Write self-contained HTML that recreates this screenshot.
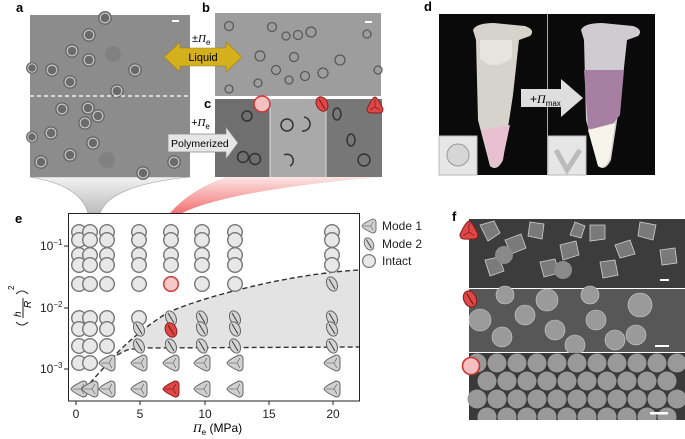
<!DOCTYPE html>
<html><head><meta charset="utf-8"><style>
html,body{margin:0;padding:0;background:#fff;width:685px;height:439px;overflow:hidden}
svg{display:block;font-family:"Liberation Sans",Arial,sans-serif}
</style></head><body>
<svg width="685" height="439" viewBox="0 0 685 439" xmlns="http://www.w3.org/2000/svg">
<defs>
<linearGradient id="gf" x1="0" y1="0" x2="0" y2="1"><stop offset="0" stop-color="#f2f2f2"/><stop offset="1" stop-color="#bdbdbd"/></linearGradient>
<linearGradient id="rf" x1="0" y1="0" x2="0" y2="1"><stop offset="0" stop-color="#fbe0e0"/><stop offset="1" stop-color="#f05a5a"/></linearGradient>
<radialGradient id="cell"><stop offset="0.55" stop-color="#6a6a6a"/><stop offset="0.7" stop-color="#e0e0e0"/><stop offset="0.85" stop-color="#555"/><stop offset="1" stop-color="#808080"/></radialGradient>
<symbol id="I" viewBox="-8 -8 16 16" overflow="visible"><circle r="7.3" fill="#e8e8e8" stroke="#777" stroke-width="1.4"/></symbol>
<symbol id="RI" viewBox="-8 -8 16 16" overflow="visible"><circle r="7.3" fill="#f6c8c8" stroke="#c44" stroke-width="1.6"/></symbol>
<symbol id="M2" viewBox="-8 -8 16 16" overflow="visible"><ellipse rx="5" ry="7.5" transform="rotate(-25)" fill="#d4d4d4" stroke="#666" stroke-width="1"/><path d="M-3,-5 L3,5" stroke="#333" stroke-width="0.9"/></symbol>
<symbol id="R2" viewBox="-8 -8 16 16" overflow="visible"><ellipse rx="5.5" ry="7.5" transform="rotate(-25)" fill="#e04848" stroke="#8a1e1e" stroke-width="1"/><path d="M-3,-5 L3,5" stroke="#701010" stroke-width="0.9"/></symbol>
<symbol id="M1" viewBox="-8 -8 16 16" overflow="visible"><path d="M-8,0 Q-7,-3 4,-8 Q8,-8 8,-4 L8,4 Q8,8 4,8 Q-7,3 -8,0Z" fill="#d0d0d0" stroke="#666" stroke-width="1"/><path d="M-6,0 L2,0 M2,0 L5,-5 M2,0 L5,5" stroke="#777" stroke-width="0.8" fill="none"/></symbol>
<symbol id="R1" viewBox="-8 -8 16 16" overflow="visible"><path d="M-8,0 Q-7,-3 4,-8 Q8,-8 8,-4 L8,4 Q8,8 4,8 Q-7,3 -8,0Z" fill="#e04848" stroke="#8a1e1e" stroke-width="1"/><path d="M-6,0 L2,0 M2,0 L5,-5 M2,0 L5,5" stroke="#8a1e1e" stroke-width="0.8" fill="none"/></symbol>
</defs>

<!-- funnels -->
<path d="M30,177 Q80,185 88,213 L100,213 Q110,185 190,177Z" fill="url(#gf)" stroke="#999" stroke-width="0.6"/>
<path d="M226,177 Q190,190 170,213 L182,213 Q230,190 381,177Z" fill="url(#rf)" opacity="0.85"/>

<!-- panel a -->
<rect x="30" y="15" width="160" height="162" fill="#8c8c8c"/>
<g fill="url(#cell)">
<circle cx="89" cy="35" r="7"/><circle cx="72" cy="51" r="7"/><circle cx="89" cy="60" r="7"/><circle cx="52" cy="70" r="7"/><circle cx="70" cy="82" r="7"/><circle cx="135" cy="70" r="7"/><circle cx="117" cy="91" r="7"/><circle cx="62" cy="109" r="7"/><circle cx="88" cy="108" r="7"/><circle cx="98" cy="116" r="7"/><circle cx="85" cy="123" r="7"/><circle cx="51" cy="133" r="7"/><circle cx="93" cy="143" r="7"/><circle cx="70" cy="155" r="7"/><circle cx="41" cy="162" r="7"/><circle cx="174" cy="162" r="7"/><circle cx="143" cy="173" r="7"/><circle cx="105" cy="18" r="7"/><circle cx="32" cy="68" r="6"/><circle cx="32" cy="137" r="6"/>
</g>
<circle cx="113" cy="54" r="8" fill="#7a7a7a" opacity="0.6"/><circle cx="107" cy="160" r="8" fill="#7a7a7a" opacity="0.6"/>
<line x1="30" y1="96" x2="190" y2="96" stroke="#eee" stroke-width="1.5" stroke-dasharray="4,3"/>
<rect x="172" y="20" width="7" height="2" fill="#fff"/>
<text x="16" y="12" font-size="13" font-weight="bold">a</text>

<!-- panel b -->
<rect x="215" y="13" width="166" height="83" fill="#9d9d9d"/>
<g fill="none" stroke="#5a5a5a" stroke-width="1.3">
<circle cx="229" cy="26" r="4.5"/><circle cx="272" cy="27" r="4.5"/><circle cx="286" cy="36" r="4"/><circle cx="298" cy="35" r="4.5"/><circle cx="311" cy="32" r="5"/><circle cx="367" cy="34" r="4"/><circle cx="260" cy="56" r="5"/><circle cx="294" cy="57" r="4.5"/><circle cx="340" cy="60" r="5"/><circle cx="276" cy="70" r="4.5"/><circle cx="289" cy="80" r="4"/><circle cx="305" cy="76" r="4.5"/><circle cx="323" cy="73" r="5"/><circle cx="258" cy="83" r="4"/><circle cx="229" cy="89" r="4"/><circle cx="378" cy="70" r="4"/>
</g>
<rect x="365" y="21" width="7" height="2" fill="#fff"/>
<text x="202" y="12" font-size="13" font-weight="bold">b</text>

<!-- panel c -->
<rect x="215" y="99" width="55" height="78" fill="#6f6f6f"/>
<rect x="270" y="99" width="56" height="78" fill="#a9a9a9"/>
<rect x="326" y="99" width="56" height="78" fill="#777"/>
<line x1="270" y1="99" x2="270" y2="177" stroke="#ddd"/><line x1="326" y1="99" x2="326" y2="177" stroke="#ddd"/>
<g fill="none" stroke="#333" stroke-width="1.5">
<circle cx="247" cy="116" r="5"/><circle cx="243" cy="157" r="5.5"/><circle cx="255" cy="159" r="5.5"/><circle cx="287" cy="125" r="6"/>
<path d="M304,117 A6,6 0 0 1 302,131"/><path d="M284,155 A6,6 0 0 1 290,166"/>
<ellipse cx="337" cy="114" rx="4" ry="6"/><ellipse cx="351" cy="140" rx="4" ry="6"/><circle cx="364" cy="160" r="6"/>
</g>
<circle cx="262" cy="104" r="8" fill="#f6c0c0" stroke="#c33" stroke-width="1.5"/>
<use href="#R2" x="314" y="96" width="16" height="16"/>
<use href="#R1" x="367" y="97" width="16" height="16" transform="rotate(90 375 105)"/>

<!-- arrows -->
<text x="192" y="42" font-size="11" font-style="italic">±<tspan font-family="Liberation Serif">Π</tspan><tspan font-size="8" dy="3" font-style="normal">e</tspan></text>
<path d="M164,57 L180,42 L180,48 L226,48 L226,42 L242,57 L226,72 L226,66 L180,66 L180,72Z" fill="#d4b01c" stroke="#9c8012" stroke-width="0.6"/>
<text x="203" y="61" font-size="11" text-anchor="middle">Liquid</text>
<rect x="196" y="98" width="18" height="14" fill="#fff"/>
<text x="204" y="108" font-size="13" font-weight="bold">c</text>
<text x="191" y="126" font-size="11" font-style="italic">+<tspan font-family="Liberation Serif">Π</tspan><tspan font-size="8" dy="3" font-style="normal">e</tspan></text>
<path d="M168,134 L226,134 L226,127 L238,143 L226,159 L226,152 L168,152Z" fill="#e6e6e6" stroke="#888" stroke-width="0.7"/>
<text x="171" y="147" font-size="10.5">Polymerized</text>

<!-- panel d -->
<text x="424" y="11" font-size="13" font-weight="bold">d</text>
<rect x="439" y="14" width="108" height="161" fill="#0a0a0a"/>
<rect x="548" y="14" width="107" height="161" fill="#0a0a0a"/>
<line x1="547.5" y1="14" x2="547.5" y2="175" stroke="#aaa"/>
<path d="M473,30 Q476,23 494,23 L525,26 Q536,30 530,36 L519,40 L513,95 L503,160 Q497,172 490,166 L478,120 L476,40Z" fill="#d6d3cc"/>
<path d="M480,58 Q492,72 512,58 L512,40 L480,40Z" fill="#e6e4de"/>
<path d="M481,130 L510,125 L503,158 Q497,170 491,165Z" fill="#e9c0cf"/>
<path d="M581,30 Q584,23 602,23 L633,26 Q644,30 638,36 L627,40 L621,95 L611,160 Q605,172 598,166 L586,120 L584,40Z" fill="#cfcbd0"/>
<path d="M584,70 L624,70 L620,115 L612,125 Q598,133 588,128Z" fill="#a67fa3"/>
<path d="M588,130 L615,123 L610,158 Q605,170 598,166Z" fill="#f6f4ea"/>
<rect x="439" y="136" width="38" height="39" fill="#e6e6e6" stroke="#bbb"/>
<circle cx="458" cy="155" r="11" fill="#d6d6d6" stroke="#999"/>
<rect x="548" y="136" width="38" height="39" fill="#e6e6e6" stroke="#bbb"/>
<path d="M556,150 L567,170 L580,150" fill="none" stroke="#bbb" stroke-width="5"/>
<path d="M521,89 L561,89 L561,79 L583,98 L561,117 L561,107 L521,107Z" fill="#dedede"/>
<text x="530" y="103" font-size="12" font-style="italic"><tspan font-style="normal">+</tspan><tspan font-family="Liberation Serif">Π</tspan><tspan font-size="8" dy="3" font-style="normal">max</tspan></text>

<!-- panel e -->
<text x="15" y="223" font-size="13" font-weight="bold">e</text>
<path d="M90,383 Q110,360 117,353 Q140,330 167,313 Q200,298 267,283 Q320,272 360,270 L360,347 L140,348 L127,350 L117,355 Z" fill="#e3e3e3"/>
<path d="M90,383 L117,353 Q140,330 167,313 Q200,298 267,283 Q320,272 360,270" fill="none" stroke="#333" stroke-width="1.4" stroke-dasharray="5,3"/>
<path d="M117,355 L127,350 L140,348 L360,347" fill="none" stroke="#333" stroke-width="1.4" stroke-dasharray="5,3"/>
<g>
<g id="colI">
<use href="#I" x="71" y="224" width="16" height="16"/><use href="#I" x="71" y="232" width="16" height="16"/><use href="#I" x="71" y="247" width="16" height="16"/><use href="#I" x="71" y="257" width="16" height="16"/>
</g>
<use href="#colI" x="11"/><use href="#colI" x="28"/><use href="#colI" x="60"/><use href="#colI" x="92"/><use href="#colI" x="123"/><use href="#colI" x="156"/><use href="#colI" x="253"/>
<use href="#I" x="71" y="276" width="16" height="16"/><use href="#I" x="82" y="276" width="16" height="16"/><use href="#I" x="99" y="276" width="16" height="16"/><use href="#I" x="131" y="276" width="16" height="16"/><use href="#RI" x="163" y="276" width="16" height="16"/><use href="#I" x="194" y="276" width="16" height="16"/><use href="#I" x="227" y="276" width="16" height="16"/><use href="#M2" x="324" y="276" width="16" height="16"/>
<use href="#I" x="71" y="310" width="16" height="16"/><use href="#I" x="82" y="310" width="16" height="16"/><use href="#I" x="99" y="310" width="16" height="16"/><use href="#I" x="131" y="310" width="16" height="16"/><use href="#M2" x="163" y="310" width="16" height="16"/><use href="#M2" x="194" y="310" width="16" height="16"/><use href="#M2" x="227" y="310" width="16" height="16"/><use href="#M2" x="324" y="310" width="16" height="16"/>
<use href="#I" x="71" y="321" width="16" height="16"/><use href="#I" x="82" y="321" width="16" height="16"/><use href="#I" x="99" y="321" width="16" height="16"/><use href="#M2" x="131" y="321" width="16" height="16"/><use href="#R2" x="163" y="322" width="16" height="16"/><use href="#M2" x="194" y="321" width="16" height="16"/><use href="#M2" x="227" y="321" width="16" height="16"/><use href="#M2" x="324" y="321" width="16" height="16"/>
<use href="#I" x="71" y="338" width="16" height="16"/><use href="#I" x="82" y="338" width="16" height="16"/><use href="#I" x="99" y="338" width="16" height="16"/><use href="#M2" x="131" y="338" width="16" height="16"/><use href="#M2" x="163" y="338" width="16" height="16"/><use href="#M2" x="194" y="338" width="16" height="16"/><use href="#M2" x="227" y="338" width="16" height="16"/><use href="#M2" x="324" y="338" width="16" height="16"/>
<use href="#I" x="71" y="355" width="16" height="16"/><use href="#I" x="82" y="355" width="16" height="16"/><use href="#M1" x="99" y="355" width="16" height="16"/><use href="#M1" x="131" y="355" width="16" height="16"/><use href="#M1" x="163" y="355" width="16" height="16"/><use href="#M1" x="194" y="355" width="16" height="16"/><use href="#M1" x="227" y="355" width="16" height="16"/><use href="#M1" x="324" y="355" width="16" height="16"/>
<use href="#M1" x="71" y="381" width="16" height="16"/><use href="#M1" x="82" y="381" width="16" height="16"/><use href="#M1" x="99" y="381" width="16" height="16"/><use href="#M1" x="131" y="381" width="16" height="16"/><use href="#R1" x="163" y="381" width="16" height="16"/><use href="#M1" x="194" y="381" width="16" height="16"/><use href="#M1" x="227" y="381" width="16" height="16"/><use href="#M1" x="324" y="381" width="16" height="16"/>
</g>
<rect x="68.5" y="213.5" width="291" height="187.5" fill="none" stroke="#222" stroke-width="1"/>
<g stroke="#222" stroke-width="1">
<line x1="76" y1="401" x2="76" y2="405"/><line x1="140" y1="401" x2="140" y2="405"/><line x1="205" y1="401" x2="205" y2="405"/><line x1="269" y1="401" x2="269" y2="405"/><line x1="333" y1="401" x2="333" y2="405"/>
<line x1="64" y1="246" x2="68" y2="246"/><line x1="64" y1="308" x2="68" y2="308"/><line x1="64" y1="369" x2="68" y2="369"/>
</g>
<g font-size="12" text-anchor="middle" fill="#222">
<text x="76" y="418">0</text><text x="140" y="418">5</text><text x="205" y="418">10</text><text x="269" y="418">15</text><text x="333" y="418">20</text>
</g>
<g font-size="12" fill="#222">
<text x="40" y="250">10<tspan font-size="8" dy="-5">−1</tspan></text>
<text x="40" y="312">10<tspan font-size="8" dy="-5">−2</tspan></text>
<text x="40" y="373">10<tspan font-size="8" dy="-5">−3</tspan></text>
</g>
<text x="193" y="432" font-size="12"><tspan font-family="Liberation Serif" font-style="italic">Π</tspan><tspan font-size="8" dy="3">e</tspan><tspan dy="-3"> (MPa)</tspan></text>
<g transform="translate(22,308) rotate(-90)">
<path d="M-14,-6 Q-20,0 -14,6 M14,-6 Q20,0 14,6" fill="none" stroke="#222" stroke-width="1"/>
<text x="-9" y="-1" font-size="10" font-style="italic">h</text>
<line x1="-10" y1="1" x2="10" y2="1" stroke="#222"/>
<text x="0" y="9" font-size="10" font-style="italic">R</text>
<text x="18" y="-8" font-size="8">2</text>
</g>
<use href="#M1" x="362" y="219" width="14" height="14"/>
<use href="#M2" x="362" y="237" width="14" height="14"/>
<use href="#I" x="362" y="254" width="14" height="14"/>
<g font-size="12" fill="#222"><text x="382" y="230">Mode 1</text><text x="382" y="248">Mode 2</text><text x="382" y="265">Intact</text></g>

<!-- panel f -->
<text x="452" y="221" font-size="13" font-weight="bold">f</text>
<rect x="469" y="219" width="216" height="69" fill="#3c3c3c"/>
<g fill="#7a7a7a" stroke="#cfcfcf" stroke-width="0.8">
<path d="M480,225 l14,-4 l6,12 l-12,8z"/><path d="M505,240 l16,-6 l5,14 l-15,6z"/><path d="M530,222 l14,2 l-2,15 l-14,-3z"/><path d="M560,245 l16,-4 l3,14 l-16,5z"/><path d="M590,225 l15,0 l0,14 l-15,2z"/><path d="M615,245 l15,-5 l5,14 l-15,4z"/><path d="M640,222 l16,3 l-3,15 l-15,-4z"/><path d="M660,250 l15,-2 l2,15 l-15,2z"/><path d="M485,260 l14,-3 l5,14 l-14,5z"/><path d="M540,262 l15,-3 l4,14 l-15,4z"/><path d="M600,262 l15,-2 l3,15 l-15,3z"/><path d="M575,222 l10,4 l-4,12 l-11,-3z"/>
</g>
<circle cx="504" cy="255" r="9" fill="#8a8a8a"/><circle cx="563" cy="270" r="9" fill="#8a8a8a"/>
<rect x="660" y="279" width="9" height="2" fill="#fff"/>
<rect x="469" y="289" width="216" height="63" fill="#575757"/>
<g fill="#9a9a9a" stroke="#cfcfcf" stroke-width="0.6">
<circle cx="480" cy="320" r="11"/><circle cx="502" cy="337" r="10"/><circle cx="525" cy="315" r="10"/><circle cx="547" cy="300" r="11"/><circle cx="555" cy="330" r="10"/><circle cx="575" cy="345" r="10"/><circle cx="596" cy="320" r="10"/><circle cx="615" cy="340" r="10"/><circle cx="640" cy="305" r="12"/><circle cx="636" cy="335" r="10"/><circle cx="505" cy="295" r="9"/><circle cx="590" cy="295" r="9"/>
</g>
<rect x="655" y="345" width="14" height="2" fill="#fff"/>
<rect x="469" y="353" width="216" height="67" fill="#3a3a3a"/>
<g fill="#999">
<circle cx="477" cy="363" r="9.5"/><circle cx="497" cy="363" r="9.5"/><circle cx="517" cy="363" r="9.5"/><circle cx="537" cy="363" r="9.5"/><circle cx="557" cy="363" r="9.5"/><circle cx="577" cy="363" r="9.5"/><circle cx="597" cy="363" r="9.5"/><circle cx="617" cy="363" r="9.5"/><circle cx="637" cy="363" r="9.5"/><circle cx="657" cy="363" r="9.5"/><circle cx="677" cy="363" r="9.5"/>
<circle cx="487" cy="381" r="9.5"/><circle cx="507" cy="381" r="9.5"/><circle cx="527" cy="381" r="9.5"/><circle cx="547" cy="381" r="9.5"/><circle cx="567" cy="381" r="9.5"/><circle cx="587" cy="381" r="9.5"/><circle cx="607" cy="381" r="9.5"/><circle cx="627" cy="381" r="9.5"/><circle cx="647" cy="381" r="9.5"/><circle cx="667" cy="381" r="9.5"/>
<circle cx="477" cy="399" r="9.5"/><circle cx="497" cy="399" r="9.5"/><circle cx="517" cy="399" r="9.5"/><circle cx="537" cy="399" r="9.5"/><circle cx="557" cy="399" r="9.5"/><circle cx="577" cy="399" r="9.5"/><circle cx="597" cy="399" r="9.5"/><circle cx="617" cy="399" r="9.5"/><circle cx="637" cy="399" r="9.5"/><circle cx="657" cy="399" r="9.5"/><circle cx="677" cy="399" r="9.5"/>
<circle cx="487" cy="417" r="9.5"/><circle cx="507" cy="417" r="9.5"/><circle cx="527" cy="417" r="9.5"/><circle cx="547" cy="417" r="9.5"/><circle cx="567" cy="417" r="9.5"/><circle cx="587" cy="417" r="9.5"/><circle cx="607" cy="417" r="9.5"/><circle cx="627" cy="417" r="9.5"/><circle cx="647" cy="417" r="9.5"/><circle cx="667" cy="417" r="9.5"/>
</g>
<rect x="469" y="420" width="216" height="19" fill="#fff"/>
<rect x="650" y="412" width="18" height="2.5" fill="#fff"/>
<use href="#R1" x="460" y="221" width="18" height="18" transform="rotate(90 469 230)"/>
<use href="#R2" x="461" y="290" width="18" height="18"/>
<circle cx="471" cy="366" r="8.5" fill="#f6c0c0" stroke="#c33" stroke-width="1.6"/>
</svg>
</body></html>
